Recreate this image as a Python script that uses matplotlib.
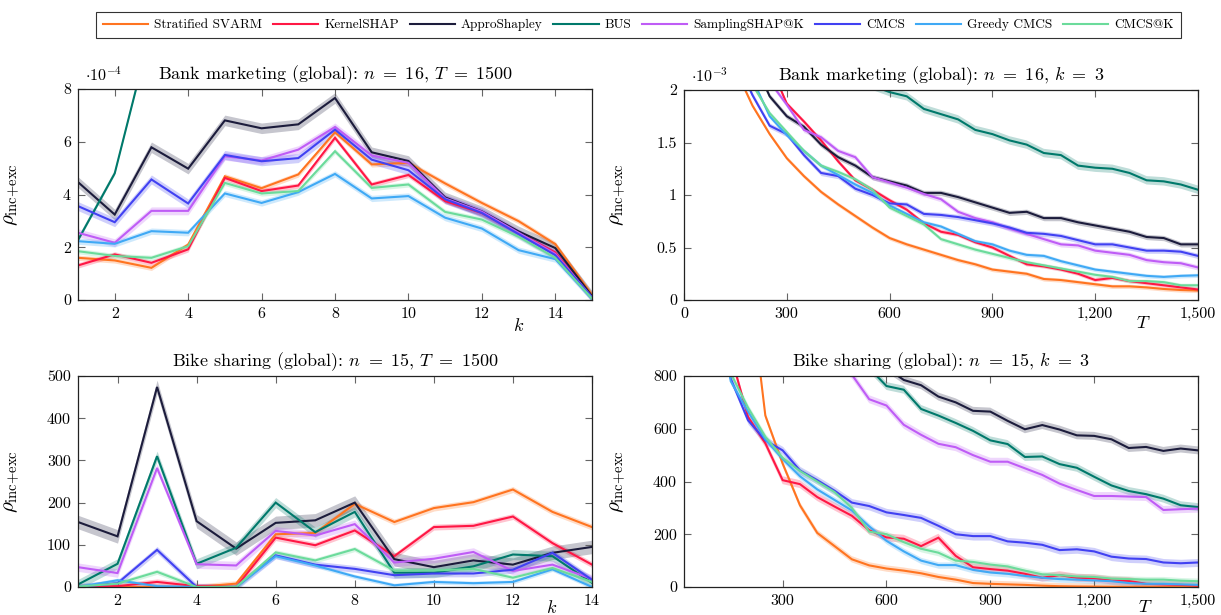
import numpy as np
import matplotlib
matplotlib.use('Agg')
import matplotlib.pyplot as plt
from matplotlib.lines import Line2D

plt.rcParams['font.family'] = ['cmr10', 'DejaVu Serif']
plt.rcParams['mathtext.fontset'] = 'cm'
plt.rcParams['axes.formatter.use_mathtext'] = True
plt.rcParams['axes.unicode_minus'] = False

# ---------------- data ----------------
methods = ["Stratified SVARM", "KernelSHAP", "ApproShapley", "BUS",
           "SamplingSHAP@K", "CMCS", "Greedy CMCS", "CMCS@K"]
colors = ["#FF7420", "#FF1744", "#1C1C3C", "#00796B",
          "#BF5CF6", "#4141F2", "#3FA9F5", "#6BDB9B"]

# Bank marketing, T = 1500, over k (values in units of 1e-4)
k_bank = list(range(1, 16))
svarm_bk = [1.6, 1.5, 1.22, 2.1, 4.69, 4.24, 4.76, 6.36, 5.14, 5.2, 4.42, 3.68, 2.99, 2.12, 0.2]
kernel_bk = [1.31, 1.73, 1.41, 1.92, 4.63, 4.13, 4.34, 6.15, 4.38, 4.74, 3.75, 3.3, 2.55, 1.8, 0.1]
appro_bk = [4.47, 3.24, 5.79, 4.98, 6.81, 6.51, 6.66, 7.66, 5.6, 5.27, 3.89, 3.36, 2.6, 1.97, 0.15]
bus_bk = [2.27, 4.8, 10.3, 14, 18, 21, 24, 26, 27, 27, 26, 24, 21, 17, 12]
sampling_bk = [2.55, 2.17, 3.38, 3.38, 5.45, 5.29, 5.7, 6.56, 5.48, 5.2, 3.85, 3.35, 2.55, 1.75, 0.1]
cmcs_bk = [3.56, 2.95, 4.57, 3.66, 5.5, 5.26, 5.38, 6.46, 5.32, 4.92, 3.82, 3.3, 2.5, 1.7, 0.1]
greedy_bk = [2.23, 2.13, 2.61, 2.55, 4.04, 3.68, 4.09, 4.78, 3.85, 3.94, 3.12, 2.71, 1.89, 1.55, 0.05]
cmcsk_bk = [1.85, 1.67, 1.6, 2.04, 4.44, 4.04, 4.13, 5.64, 4.25, 4.38, 3.34, 3.05, 2.4, 1.6, 0.05]
band_bk = [0.1, 0.1, 0.2, 0.1, 0.15, 0.17, 0.12, 0.1]

# Bank marketing, k = 3, over T (values in units of 1e-3)
T_grid = list(range(50, 1501, 50))
svarm_bt = [4.0, 2.9, 2.2, 1.85, 1.58, 1.35, 1.18, 1.03, 0.91, 0.80, 0.69, 0.59, 0.53, 0.48, 0.43,
            0.38, 0.34, 0.29, 0.27, 0.25, 0.20, 0.19, 0.17, 0.15, 0.13, 0.13, 0.12, 0.105, 0.095, 0.09]
kernel_bt = [6.0, 4.0, 2.9, 2.5, 2.25, 1.87, 1.7, 1.52, 1.32, 1.14, 1.05, 0.95, 0.86, 0.73, 0.65,
             0.62, 0.55, 0.5, 0.42, 0.34, 0.32, 0.29, 0.25, 0.19, 0.21, 0.18, 0.16, 0.14, 0.12, 0.1]
appro_bt = [5.0, 3.5, 2.7, 2.3, 1.94, 1.75, 1.65, 1.48, 1.36, 1.28, 1.17, 1.13, 1.09, 1.02, 1.02,
            0.98, 0.93, 0.88, 0.83, 0.84, 0.78, 0.78, 0.74, 0.71, 0.68, 0.65, 0.6, 0.59, 0.53, 0.53]
bus_bt = [9.0, 6.5, 5.0, 4.0, 3.3, 2.9, 2.65, 2.45, 2.3, 2.15, 2.04, 1.98, 1.94, 1.82, 1.77,
          1.72, 1.62, 1.58, 1.52, 1.48, 1.4, 1.38, 1.28, 1.26, 1.25, 1.21, 1.14, 1.13, 1.1, 1.05]
sampling_bt = [5.5, 3.8, 2.9, 2.4, 2.08, 1.86, 1.62, 1.55, 1.42, 1.36, 1.17, 1.12, 1.07, 1.01, 0.96,
               0.84, 0.78, 0.74, 0.68, 0.63, 0.58, 0.53, 0.52, 0.47, 0.45, 0.43, 0.38, 0.36, 0.35, 0.31]
cmcs_bt = [4.5, 3.2, 2.3, 1.95, 1.66, 1.58, 1.38, 1.21, 1.18, 1.06, 1.0, 0.92, 0.91, 0.82, 0.81,
           0.79, 0.76, 0.73, 0.69, 0.64, 0.63, 0.61, 0.57, 0.53, 0.53, 0.5, 0.47, 0.47, 0.46, 0.42]
greedy_bt = [4.6, 3.3, 2.5, 2.1, 1.75, 1.57, 1.42, 1.28, 1.19, 1.1, 1.02, 0.9, 0.82, 0.74, 0.7,
             0.63, 0.56, 0.53, 0.47, 0.43, 0.42, 0.37, 0.33, 0.29, 0.27, 0.25, 0.23, 0.22, 0.23, 0.235]
cmcsk_bt = [4.6, 3.3, 2.5, 2.05, 1.78, 1.6, 1.42, 1.28, 1.22, 1.15, 1.05, 0.88, 0.8, 0.72, 0.58,
            0.53, 0.48, 0.44, 0.4, 0.36, 0.33, 0.3, 0.27, 0.24, 0.22, 0.18, 0.18, 0.17, 0.14, 0.14]
band_bt = [0.02, 0.02, 0.025, 0.04, 0.025, 0.025, 0.02, 0.02]

# Bike sharing, T = 1500, over k
k_bike = list(range(1, 15))
svarm_bs = [0, 0, 0, 0, 8, 125, 128, 197, 154, 187, 201, 231, 178, 142]
kernel_bs = [0, 2, 12, 2, 0, 117, 99, 134, 73, 142, 145, 167, 104, 53]
appro_bs = [154, 120, 474, 156, 91, 152, 158, 200, 66, 47, 63, 53, 81, 95]
bus_bs = [6, 55, 310, 55, 93, 200, 130, 178, 34, 34, 49, 77, 73, 10]
sampling_bs = [47, 33, 282, 54, 51, 133, 122, 149, 58, 67, 83, 38, 53, 19]
cmcs_bs = [0, 9, 88, 0, 0, 75, 53, 43, 28, 32, 32, 41, 81, 17]
greedy_bs = [0, 16, 2, 0, 0, 73, 51, 25, 4, 12, 9, 12, 42, 0]
cmcsk_bs = [1, 8, 36, 0, 0, 82, 63, 90, 39, 39, 43, 22, 45, 12]
band_bs = [7, 7, 16, 12, 10, 8, 5, 6]

# Bike sharing, k = 3, over T
svarm_btT = [5000, 3500, 2200, 1200, 650, 468, 310, 205, 155, 105, 82, 70, 62, 52, 38,
             28, 15, 12, 10, 8, 5, 3, 2, 1.5, 1, 1, 1, 0.5, 0.5, 0.5]
kernel_btT = [2500, 1500, 880, 645, 545, 405, 390, 341, 305, 270, 215, 188, 183, 155, 187,
              118, 75, 68, 62, 50, 35, 45, 35, 33, 25, 23, 12, 10, 8, 5]
appro_btT = [3000, 2400, 2000, 1700, 1500, 1350, 1200, 1100, 1000, 930, 880, 830, 785, 765, 722,
             700, 668, 665, 630, 598, 614, 597, 575, 573, 560, 527, 531, 516, 525, 518]
bus_btT = [2800, 2300, 1900, 1600, 1400, 1250, 1120, 1020, 940, 880, 830, 762, 748, 675, 650,
           622, 592, 556, 542, 493, 495, 466, 452, 418, 385, 364, 352, 335, 310, 303]
sampling_btT = [2600, 2100, 1800, 1500, 1300, 1150, 1020, 930, 860, 805, 712, 688, 615, 577, 543,
                530, 500, 475, 475, 450, 425, 392, 368, 345, 345, 343, 341, 292, 295, 297]
cmcs_btT = [2000, 1200, 790, 632, 556, 518, 442, 405, 365, 320, 307, 283, 273, 262, 232,
            200, 193, 193, 173, 168, 160, 140, 143, 135, 115, 108, 106, 93, 90, 93]
greedy_btT = [2000, 1200, 780, 665, 560, 485, 420, 370, 330, 290, 230, 175, 135, 100, 83,
              83, 65, 55, 50, 42, 35, 30, 28, 25, 22, 15, 12, 12, 10, 8]
cmcsk_btT = [2100, 1250, 810, 680, 570, 490, 440, 400, 360, 300, 210, 200, 170, 145, 130,
             100, 95, 85, 78, 62, 48, 45, 40, 38, 32, 30, 28, 28, 24, 22]
band_btT = [12, 15, 15, 15, 15, 15, 12, 12]

# ---------------- figure ----------------
W, H = 1221, 615
fig = plt.figure(figsize=(W / 100, H / 100), dpi=100)


def px_axes(x0, y0, x1, y1):
    return fig.add_axes([x0 / W, 1 - y1 / H, (x1 - x0) / W, (y1 - y0) / H])


ax_tl = px_axes(78, 89, 592, 300)
ax_tr = px_axes(684, 90, 1198, 300)
ax_bl = px_axes(78, 376, 592, 587)
ax_br = px_axes(684, 376, 1198, 587)

YLAB = r'$\rho_{\mathrm{inc{+}exc}}$'


def draw(ax, x, series, bands):
    x = np.asarray(x, dtype=float)
    for vals, c, hw in zip(series, colors, bands):
        v = np.asarray(vals, dtype=float)
        ax.fill_between(x, v - hw, v + hw, color=c, alpha=0.25, lw=0)
        ax.plot(x, v, color=c, lw=1.5, solid_joinstyle='miter')


def style(ax):
    ax.tick_params(direction='in', which='major', top=True, right=True,
                   length=5, width=0.8, color='#666666', labelsize=11.5, pad=5)
    for s in ax.spines.values():
        s.set_linewidth(0.9)
        s.set_color('#222222')
    ax.set_ylabel(YLAB, fontsize=15)
    ax.yaxis.set_label_coords(-0.108, 0.5)


draw(ax_tl, k_bank, [svarm_bk, kernel_bk, appro_bk, bus_bk, sampling_bk, cmcs_bk, greedy_bk, cmcsk_bk], band_bk)
ax_tl.set_xlim(1, 15)
ax_tl.set_ylim(0, 8)
ax_tl.set_xticks([2, 4, 6, 8, 10, 12, 14])
ax_tl.set_yticks([0, 2, 4, 6, 8])
ax_tl.set_xticklabels(['2', '4', '6', '8', '10', '12', '14'])
ax_tl.set_yticklabels(['0', '2', '4', '6', '8'])
ax_tl.set_title(r'Bank marketing (global): $n\ =\ 16$, $T\ =\ 1500$', fontsize=13, pad=7)
ax_tl.text(0.013, 1.025, r'$\cdot 10^{-4}$', transform=ax_tl.transAxes, fontsize=11.5, ha='left', va='bottom')
ax_tl.text(0.858, -0.12, r'$k$', transform=ax_tl.transAxes, fontsize=13, ha='center', va='center')
style(ax_tl)

draw(ax_tr, T_grid, [svarm_bt, kernel_bt, appro_bt, bus_bt, sampling_bt, cmcs_bt, greedy_bt, cmcsk_bt], band_bt)
ax_tr.set_xlim(0, 1500)
ax_tr.set_ylim(0, 2)
ax_tr.set_xticks([0, 300, 600, 900, 1200, 1500])
ax_tr.set_xticklabels(['0', '300', '600', '900', '1,200', '1,500'])
ax_tr.set_yticks([0, 0.5, 1, 1.5, 2])
ax_tr.set_yticklabels(['0', '0.5', '1', '1.5', '2'])
ax_tr.set_title(r'Bank marketing (global): $n\ =\ 16$, $k\ =\ 3$', fontsize=13, pad=7)
ax_tr.text(0.013, 1.025, r'$\cdot 10^{-3}$', transform=ax_tr.transAxes, fontsize=11.5, ha='left', va='bottom')
ax_tr.text(0.893, -0.11, r'$T$', transform=ax_tr.transAxes, fontsize=13, ha='center', va='center')
style(ax_tr)

draw(ax_bl, k_bike, [svarm_bs, kernel_bs, appro_bs, bus_bs, sampling_bs, cmcs_bs, greedy_bs, cmcsk_bs], band_bs)
ax_bl.set_xlim(1, 14)
ax_bl.set_ylim(0, 500)
ax_bl.set_xticks([2, 4, 6, 8, 10, 12, 14])
ax_bl.set_xticklabels(['2', '4', '6', '8', '10', '12', '14'])
ax_bl.set_yticks([0, 100, 200, 300, 400, 500])
ax_bl.set_yticklabels(['0', '100', '200', '300', '400', '500'])
ax_bl.set_title(r'Bike sharing (global): $n\ =\ 15$, $T\ =\ 1500$', fontsize=13, pad=7)
ax_bl.text(0.922, -0.095, r'$k$', transform=ax_bl.transAxes, fontsize=13, ha='center', va='center')
style(ax_bl)

draw(ax_br, T_grid, [svarm_btT, kernel_btT, appro_btT, bus_btT, sampling_btT, cmcs_btT, greedy_btT, cmcsk_btT], band_btT)
ax_br.set_xlim(15, 1500)
ax_br.set_ylim(0, 800)
ax_br.set_xticks([300, 600, 900, 1200, 1500])
ax_br.set_xticklabels(['300', '600', '900', '1,200', '1,500'])
ax_br.set_yticks([0, 200, 400, 600, 800])
ax_br.set_yticklabels(['0', '200', '400', '600', '800'])
ax_br.set_title(r'Bike sharing (global): $n\ =\ 15$, $k\ =\ 3$', fontsize=13, pad=7)
ax_br.text(0.897, -0.095, r'$T$', transform=ax_br.transAxes, fontsize=13, ha='center', va='center')
style(ax_br)

handles = [Line2D([], [], color=c, lw=1.5) for c in colors]
leg = fig.legend(handles, methods, loc='center', bbox_to_anchor=(638.5 / W, 1 - 25 / H),
                 ncol=8, frameon=True, fancybox=False, edgecolor='black', fontsize=9.6,
                 handlelength=3.4, columnspacing=0.8, handletextpad=0.45, borderpad=0.5)
leg.get_frame().set_linewidth(0.8)

fig.savefig('out.png', dpi=100)
